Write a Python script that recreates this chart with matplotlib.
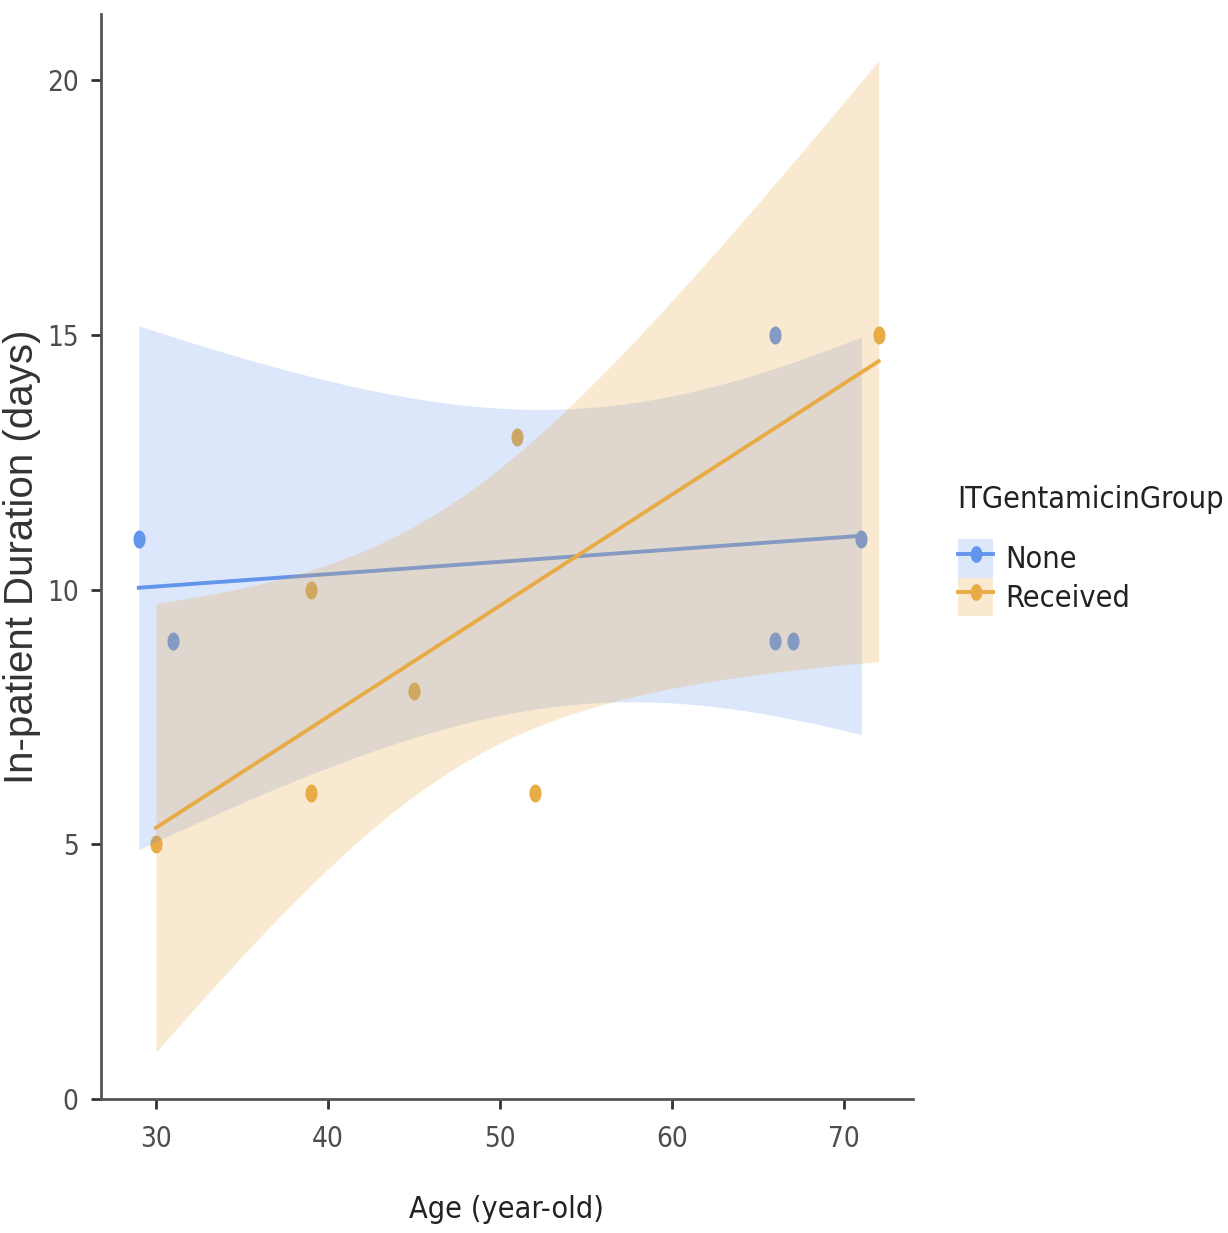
import numpy as np
import matplotlib
matplotlib.use("Agg")
import matplotlib.pyplot as plt
from matplotlib.path import Path
from matplotlib.patches import Patch
from matplotlib.lines import Line2D
from matplotlib.colors import to_rgba
from matplotlib import font_manager as fm

# data
none_age = [29, 31, 66, 66, 67, 71]
none_days = [11, 9, 15, 9, 9, 11]
recv_age = [30, 39, 39, 45, 51, 52, 72]
recv_days = [5, 6, 10, 8, 13, 6, 15]

groups = ["None", "Received"]
colors = ["#6495ED", "#E8AB45"]
band_alpha = [0.22, 0.25]
x_ticks = [30, 40, 50, 60, 70]
y_ticks = [0, 5, 10, 15, 20]

# 95% t quantiles for df = n - 2
T_CRIT = {4: 2.7764, 5: 2.5706}

# pick a narrow font if there is one
names = {f.name for f in fm.fontManager.ttflist}
if "Liberation Sans Narrow" in names:
    narrow = {"family": "Liberation Sans Narrow"}
elif any(f.name == "DejaVu Sans" and "ondensed" in str(f.stretch) for f in fm.fontManager.ttflist):
    narrow = {"family": "DejaVu Sans", "stretch": "condensed"}
else:
    narrow = {"family": "Liberation Sans"}


def lm_band(x, y):
    x = np.asarray(x, float)
    y = np.asarray(y, float)
    b, a = np.polyfit(x, y, 1)
    xs = np.linspace(x.min(), x.max(), 100)
    fit = a + b * xs
    resid = y - (a + b * x)
    s = np.sqrt(np.sum(resid ** 2) / (len(x) - 2))
    se = s * np.sqrt(1 / len(x) + (xs - x.mean()) ** 2 / np.sum((x - x.mean()) ** 2))
    t = T_CRIT[len(x) - 2]
    return xs, fit, fit - t * se, fit + t * se


# squashed dot, like the source image
theta = np.linspace(0, 2 * np.pi, 41)
dot = Path(np.column_stack([0.67 * np.cos(theta), np.sin(theta)]), closed=True)

fig = plt.figure(figsize=(12.28, 12.33), dpi=100)
ax = fig.add_axes([0.0822, 0.1087, 0.6613, 0.880])

data = [(none_age, none_days), (recv_age, recv_days)]
for (xa, ya), c in zip(data, colors):
    ax.scatter(xa, ya, s=13 ** 2, marker=dot, color=c, linewidths=0, zorder=2)

z = 3
for (xa, ya), c, al in zip(data, colors, band_alpha):
    xs, fit, lo, hi = lm_band(xa, ya)
    ax.fill_between(xs, lo, hi, color=c, alpha=al, linewidth=0, zorder=z)
    ax.plot(xs, fit, color=c, lw=2.8, zorder=z + 1)
    z += 2

ax.set_xlim(26.8, 74.0)
ax.set_ylim(0, 21.3)
ax.set_xticks(x_ticks)
ax.set_yticks(y_ticks)

for side in ["top", "right"]:
    ax.spines[side].set_visible(False)
for side in ["left", "bottom"]:
    ax.spines[side].set_linewidth(2)
    ax.spines[side].set_color("#555555")

ax.tick_params(axis="both", length=7, width=2, color="#333333", labelcolor="#4D4D4D", labelsize=20)
ax.tick_params(axis="x", pad=12)
ax.tick_params(axis="y", pad=9)
for lab in ax.get_xticklabels() + ax.get_yticklabels():
    lab.set_fontproperties(fm.FontProperties(size=20, **narrow))

ax.set_xlabel("Age (year-old)", fontproperties=fm.FontProperties(size=22, **narrow),
              labelpad=30, color="#222222")
ax.set_ylabel("In-patient Duration (days)", family="Liberation Sans", fontsize=29,
              labelpad=4, color="#333333")

# legend: title as its own text so the gap under it can be set
fig.text(957 / 1228, 1 - 500 / 1233, "ITGentamicinGroup", ha="left", va="center",
         fontproperties=fm.FontProperties(size=22, **narrow), color="#222222")

handles = []
for c, al in zip(colors, band_alpha):
    patch = Patch(facecolor=to_rgba(c, al), edgecolor="none")
    line = Line2D([], [], color=c, lw=2.8, marker=dot, markersize=11)
    handles.append((patch, line))

leg = ax.legend(handles, groups,
                loc="upper left", bbox_to_anchor=(958 / 1228, 1 - 539 / 1233),
                bbox_transform=fig.transFigure, frameon=False, borderpad=0,
                borderaxespad=0, handlelength=1.15, handleheight=1.57,
                labelspacing=0, handletextpad=0.4,
                prop=fm.FontProperties(size=22, **narrow))
for t in leg.get_texts():
    t.set_color("#222222")

fig.savefig("out.png", dpi=100)
